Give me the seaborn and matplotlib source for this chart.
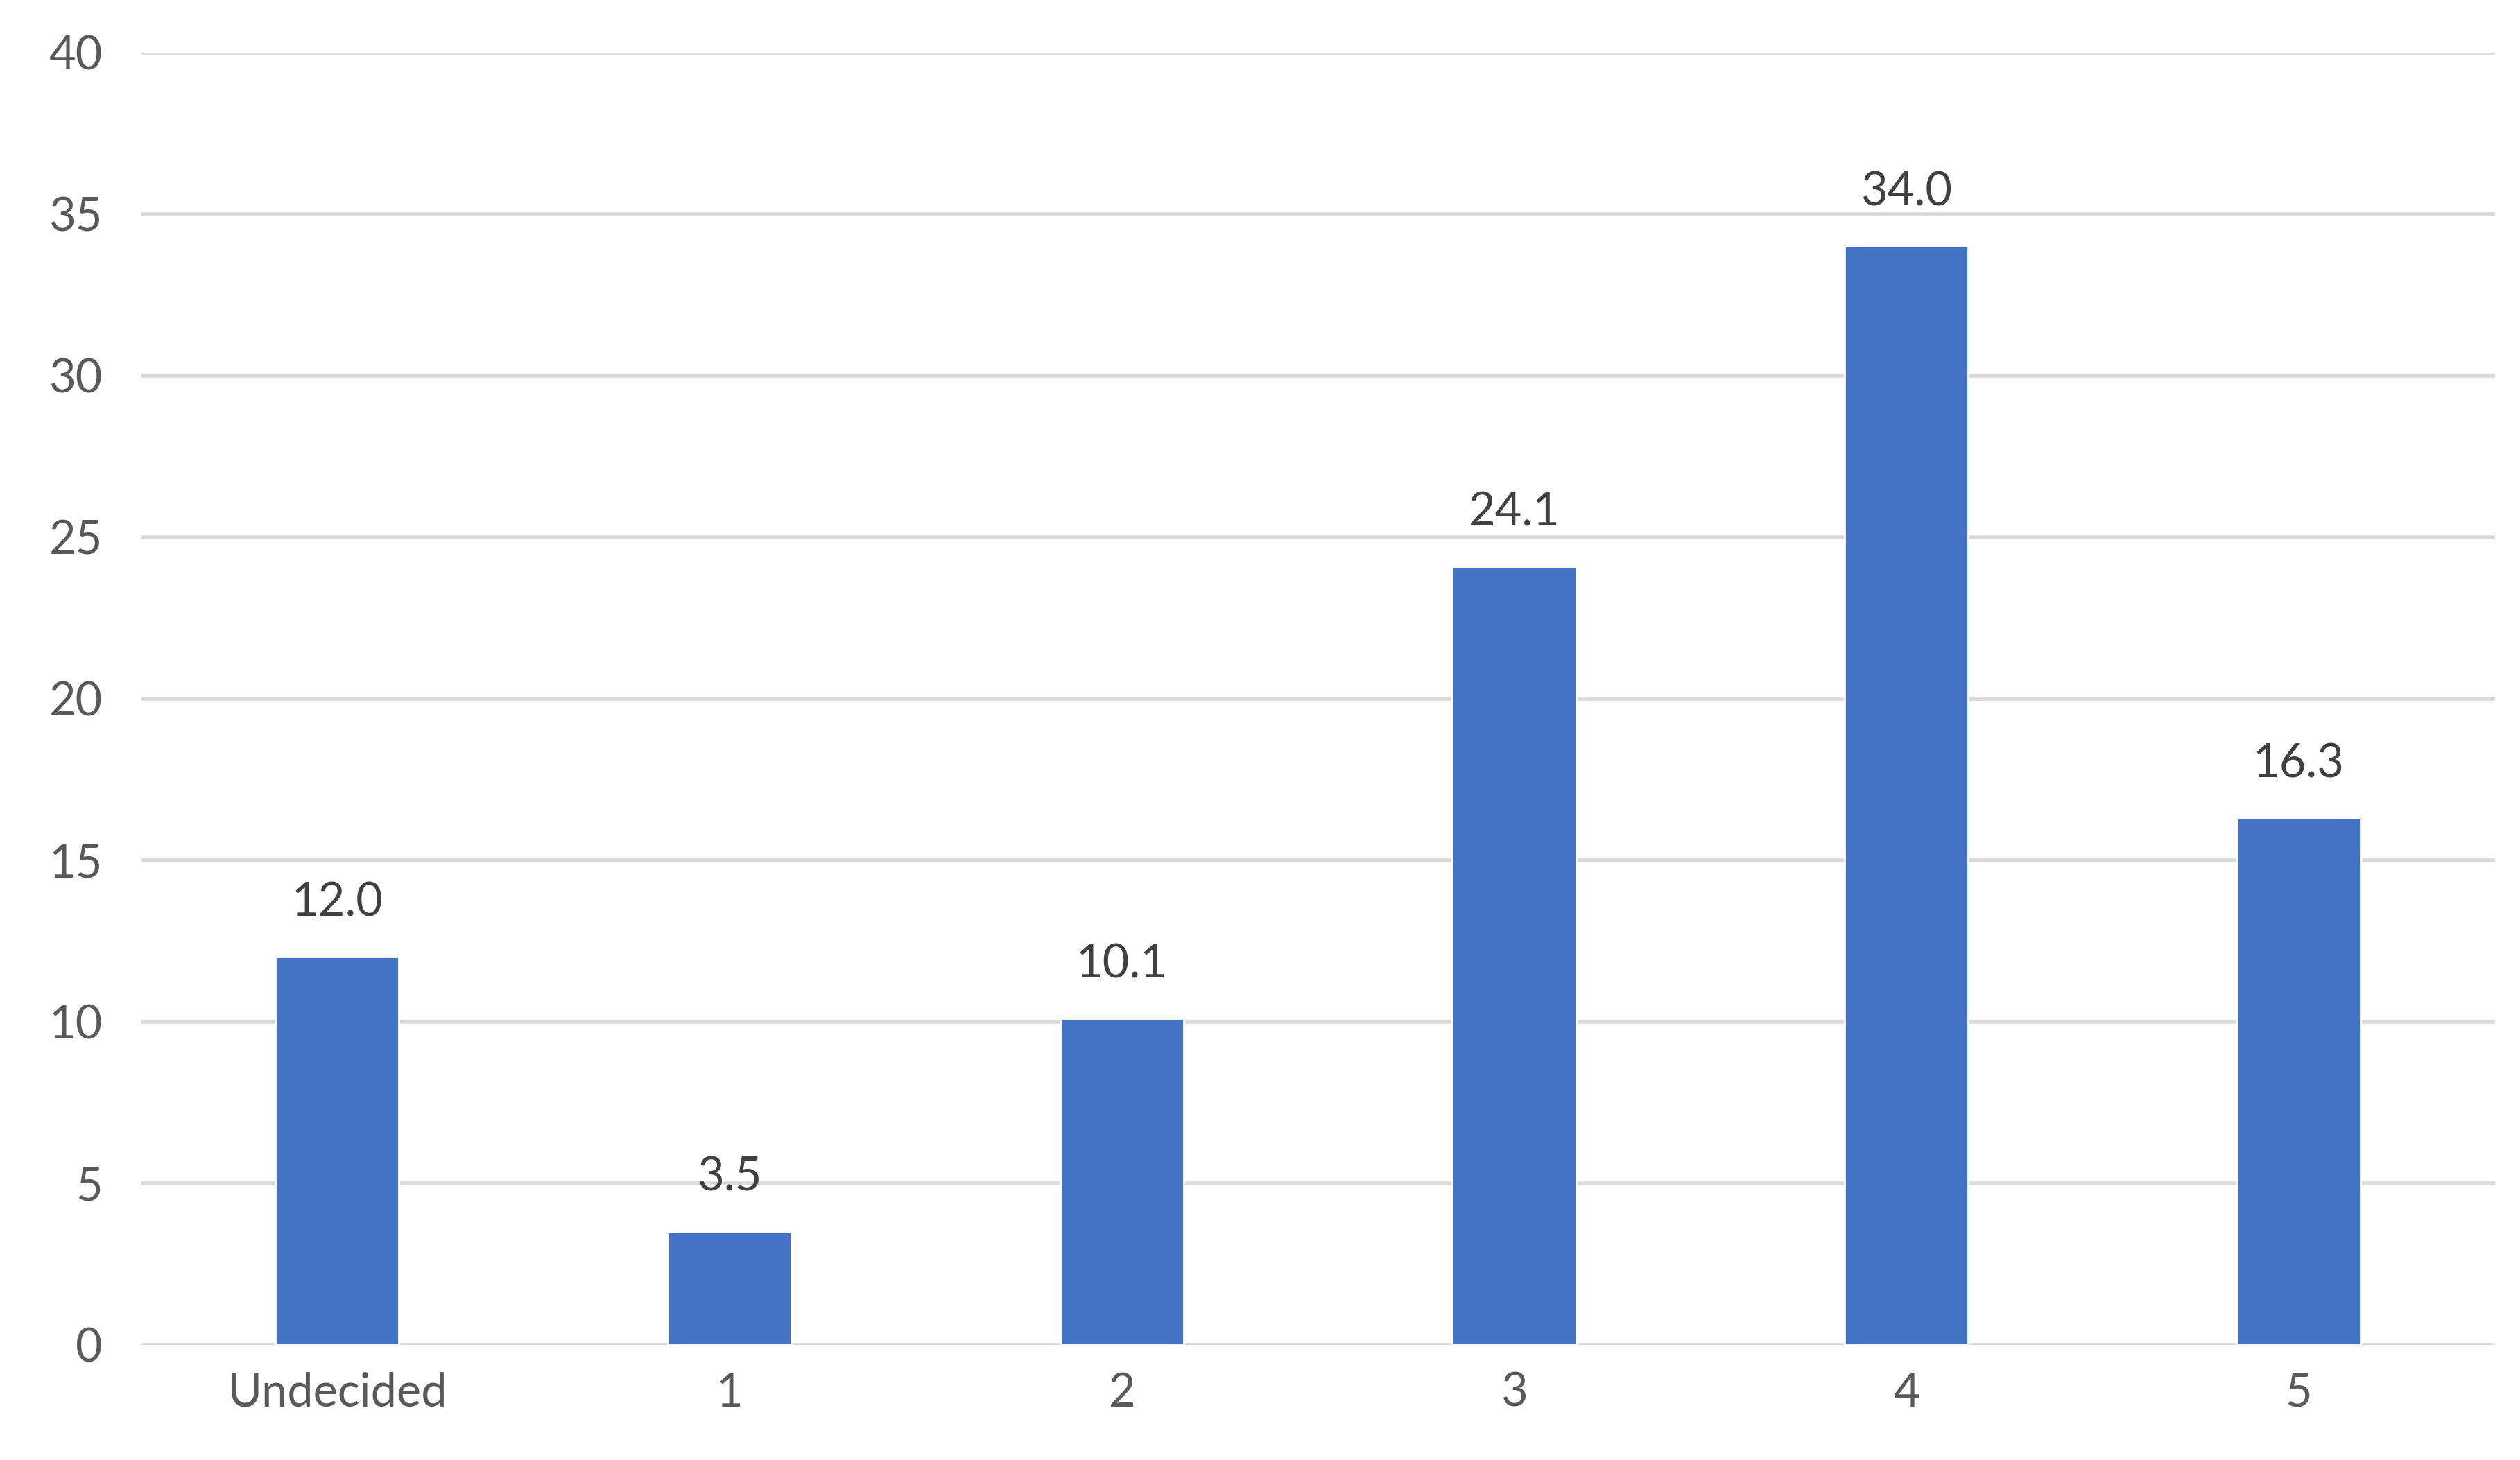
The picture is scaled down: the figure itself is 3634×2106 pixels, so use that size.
import matplotlib
matplotlib.use("Agg")
import matplotlib.pyplot as plt
import seaborn as sns
import pandas as pd

# datos del grafico
categorias = ["Undecided", "1", "2", "3", "4", "5"]
valores = [12.0, 3.5, 10.1, 24.1, 34.0, 16.3]

sns.set_theme(style="white")
plt.rcParams['font.family'] = ['Lato', 'DejaVu Sans']

df = pd.DataFrame({"cat": categorias, "val": valores})

fig = plt.figure(figsize=(18.17, 10.53), dpi=200)
ax = fig.add_axes([0.056, 0.079, 0.934, 0.885])

sns.barplot(data=df, x="cat", y="val", color="#4472C4", width=0.315,
            saturation=1, ax=ax, zorder=3)

for i, v in enumerate(valores):
    ax.text(i, v + 1.0, f"{v:.1f}", ha="center", va="bottom",
            fontsize=24, color="#404040")

ax.set_ylim(0, 40)
ax.set_yticks(range(0, 41, 5))
ax.set_xlim(-0.5, 5.5)
ax.yaxis.grid(True, color="#D9D9D9", linewidth=2, zorder=0)
ax.set_axisbelow(True)
for s in ax.spines.values():
    s.set_visible(False)
ax.set_xlabel("")
ax.set_ylabel("")
ax.tick_params(axis="both", length=0, labelsize=24, labelcolor="#595959")
ax.tick_params(axis="y", pad=20)
ax.tick_params(axis="x", pad=14)

fig.savefig("out.png", dpi=200)
